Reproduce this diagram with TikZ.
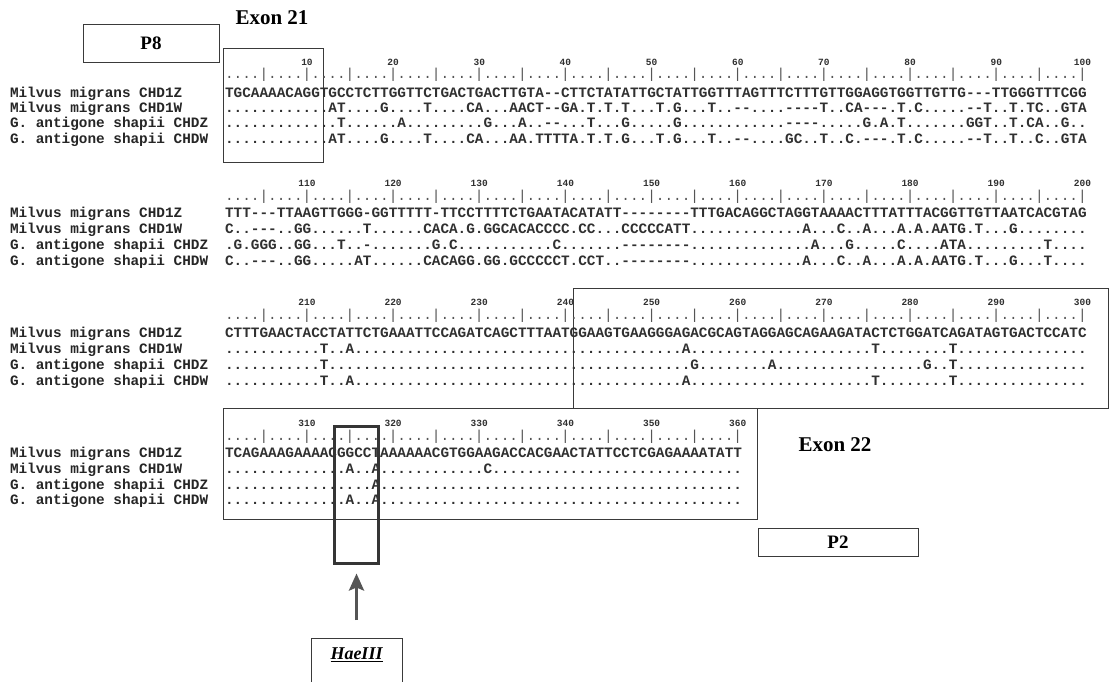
\documentclass[tikz,border=0pt]{standalone}
\usepackage{fontspec}
\setmainfont{Liberation Serif}
\setmonofont{Liberation Mono}
\usetikzlibrary{arrows.meta}
\definecolor{seqc}{HTML}{303030}
\definecolor{labc}{HTML}{262626}
\definecolor{boxc}{HTML}{3A3A3A}
\definecolor{tickc}{HTML}{555555}
\definecolor{hc}{HTML}{353535}
\definecolor{arrc}{HTML}{555555}
\ExplSyntaxOn
\cs_new:Npn \Rp #1#2 { \prg_replicate:nn {#1} {#2} }
\ExplSyntaxOff
\newcommand{\monof}{\fontsize{14.36}{16}\selectfont\ttfamily\frenchspacing}
\tikzset{
  rowlab/.style={anchor=base west, inner sep=0pt, outer sep=0pt, font=\monof\bfseries, text=labc},
  seqrow/.style={anchor=base west, inner sep=0pt, outer sep=0pt, font=\monof\bfseries, text=seqc},
  tickrow/.style={anchor=base west, inner sep=0pt, outer sep=0pt, font=\monof, text=tickc},
  numlab/.style={anchor=base, inner sep=0pt, font=\fontsize{9.5}{10}\selectfont\ttfamily\bfseries, text=seqc},
  framebox/.style={draw=boxc, line width=0.9pt, inner sep=0pt, outer sep=0pt},
  titletext/.style={font=\fontsize{21}{22}\selectfont\bfseries, text=black, inner sep=0pt},
  primertext/.style={font=\fontsize{19}{20}\selectfont\bfseries, text=black, inner sep=0pt},
}
\begin{document}
\begin{tikzpicture}[x=1pt,y=-1pt]
\clip (0,0) rectangle (1110,682);
\fill[white] (0,0) rectangle (1110,682);

% ---------- titles and primer boxes
\node[titletext] (ex21) at (272,18) {Exon 21};
\node[titletext] (ex22) at (835,445) {Exon 22};
\node[framebox, minimum width=136pt, minimum height=38pt] (p8box) at (151,43) {};
\node[primertext] (p8) at (151,43) {P8};
\node[framebox, minimum width=160pt, minimum height=28pt] (p2box) at (838,542) {};
\node[primertext] (p2) at (838,542) {P2};

% ---------- region boxes
\node[framebox, minimum width=100pt, minimum height=114pt] (box1) at (273,105) {};
\node[framebox, minimum width=535pt, minimum height=120pt] (box3) at (840.5,348) {};
\node[framebox, minimum width=534pt, minimum height=111pt] (box4) at (490,463.5) {};

% ---------- block 1 (1-100)
\foreach \k in {1,...,10}{\pgfmathtruncatemacro{\lab}{\k*10}
  \node[numlab] (na\k) at ({220.8+86.16*\k},65.5) {\lab};}
\node[tickrow] (ta) at (225.1,79) {\Rp{10}{....|....|}};
\node[rowlab] (la1) at (10,98) {Milvus migrans CHD1Z};
\node[rowlab] (la2) at (10,113) {Milvus migrans CHD1W};
\node[rowlab] (la3) at (10,128) {G. antigone shapii CHDZ};
\node[rowlab] (la4) at (10,143.5) {G. antigone shapii CHDW};
\node[seqrow] (sa1) at (225.1,98) {TGCAAAACAGGTGCCTCTTGGTTCTGACTGACTTGTA--CTTCTATATTGCTATTGGTTTAGTTTCTTTGTTGGAGGTGGTTGTTG---TTGGGTTTCGG};
\node[seqrow] (sa2) at (225.1,113) {\Rp{12}{.}AT....G....T....CA...AACT--GA.T.T.T...T.G...T..--....----T..CA---.T.C.....--T..T.TC..GTA};
\node[seqrow] (sa3) at (225.1,128) {\Rp{13}{.}T\Rp{6}{.}A\Rp{9}{.}G...A..--...T...G\Rp{5}{.}G\Rp{12}{.}----\Rp{5}{.}G.A.T\Rp{7}{.}GGT..T.CA..G..};
\node[seqrow] (sa4) at (225.1,143.5) {\Rp{12}{.}AT....G....T....CA...AA.TTTTA.T.T.G...T.G...T..--....GC..T..C.---.T.C\Rp{5}{.}--T..T..C..GTA};

% ---------- block 2 (101-200)
\foreach \k in {1,...,10}{\pgfmathtruncatemacro{\lab}{100+\k*10}
  \node[numlab] (nb\k) at ({220.8+86.16*\k},186.5) {\lab};}
\node[tickrow] (tb) at (225.1,200) {\Rp{10}{....|....|}};
\node[rowlab] (lb1) at (10,217.5) {Milvus migrans CHD1Z};
\node[rowlab] (lb2) at (10,233.5) {Milvus migrans CHD1W};
\node[rowlab] (lb3) at (10,249) {G. antigone shapii CHDZ};
\node[rowlab] (lb4) at (10,265.5) {G. antigone shapii CHDW};
\node[seqrow] (sb1) at (225.1,217.5) {TTT---TTAAGTTGGG-GGTTTTT-TTCCTTTTCTGAATACATATT--------TTTGACAGGCTAGGTAAAACTTTATTTACGGTTGTTAATCACGTAG};
\node[seqrow] (sb2) at (225.1,233.5) {C..---..GG\Rp{6}{.}T\Rp{6}{.}CACA.G.GGCACACCCC.CC...CCCCCATT\Rp{13}{.}A...C..A...A.A.AATG.T...G\Rp{8}{.}};
\node[seqrow] (sb3) at (225.1,249) {.G.GGG..GG...T..-\Rp{7}{.}G.C\Rp{11}{.}C\Rp{7}{.}--------\Rp{14}{.}A...G\Rp{5}{.}C....ATA\Rp{9}{.}T....};
\node[seqrow] (sb4) at (225.1,265.5) {C..---..GG\Rp{5}{.}AT\Rp{6}{.}CACAGG.GG.GCCCCCT.CCT..--------\Rp{13}{.}A...C..A...A.A.AATG.T...G...T....};

% ---------- block 3 (201-300)
\foreach \k in {1,...,10}{\pgfmathtruncatemacro{\lab}{200+\k*10}
  \node[numlab] (nc\k) at ({220.8+86.16*\k},305.5) {\lab};}
\node[tickrow] (tc) at (225.1,319) {\Rp{10}{....|....|}};
\node[rowlab] (lc1) at (10,337.5) {Milvus migrans CHD1Z};
\node[rowlab] (lc2) at (10,353.5) {Milvus migrans CHD1W};
\node[rowlab] (lc3) at (10,369) {G. antigone shapii CHDZ};
\node[rowlab] (lc4) at (10,385) {G. antigone shapii CHDW};
\node[seqrow] (sc1) at (225.1,337.5) {CTTTGAACTACCTATTCTGAAATTCCAGATCAGCTTTAATGGAAGTGAAGGGAGACGCAGTAGGAGCAGAAGATACTCTGGATCAGATAGTGACTCCATC};
\node[seqrow] (sc2) at (225.1,353.5) {\Rp{11}{.}T..A\Rp{38}{.}A\Rp{21}{.}T\Rp{8}{.}T\Rp{15}{.}};
\node[seqrow] (sc3) at (225.1,369) {\Rp{11}{.}T\Rp{42}{.}G\Rp{8}{.}A\Rp{17}{.}G..T\Rp{15}{.}};
\node[seqrow] (sc4) at (225.1,385) {\Rp{11}{.}T..A\Rp{38}{.}A\Rp{21}{.}T\Rp{8}{.}T\Rp{15}{.}};

% ---------- block 4 (301-360)
\foreach \k in {1,...,6}{\pgfmathtruncatemacro{\lab}{300+\k*10}
  \node[numlab] (nd\k) at ({220.8+86.16*\k},426.5) {\lab};}
\node[tickrow] (td) at (225.1,440) {\Rp{6}{....|....|}};
\node[rowlab] (ld1) at (10,457) {Milvus migrans CHD1Z};
\node[rowlab] (ld2) at (10,473) {Milvus migrans CHD1W};
\node[rowlab] (ld3) at (10,489) {G. antigone shapii CHDZ};
\node[rowlab] (ld4) at (10,504) {G. antigone shapii CHDW};
\node[seqrow] (sd1) at (225.1,457) {TCAGAAAGAAAACGGCCTAAAAAACGTGGAAGACCACGAACTATTCCTCGAGAAAATATT};
\node[seqrow] (sd2) at (225.1,473) {\Rp{14}{.}A..A\Rp{12}{.}C\Rp{29}{.}};
\node[seqrow] (sd3) at (225.1,489) {\Rp{17}{.}A\Rp{42}{.}};
\node[seqrow] (sd4) at (225.1,504) {\Rp{14}{.}A..A\Rp{42}{.}};

% ---------- HaeIII site
\node[draw=hc, line width=3pt, inner sep=0pt, outer sep=0pt, minimum width=44pt, minimum height=137pt] (hbox) at (356.5,495) {};
\node[draw=boxc, line width=0.9pt, inner sep=0pt, outer sep=0pt, minimum width=91pt, minimum height=62pt] (hlab) at (356.5,669) {};
\node[inner sep=0pt, font=\fontsize{18}{19}\selectfont\bfseries\itshape] (htext) at (356.5,655) {\underline{HaeIII}};
\draw[draw=arrc, line width=3.2pt, -{Stealth[length=17pt,width=15pt,inset=3pt]}, shorten <=18pt, shorten >=10pt] (hlab.north) -- (hbox.south);
\end{tikzpicture}
\end{document}
